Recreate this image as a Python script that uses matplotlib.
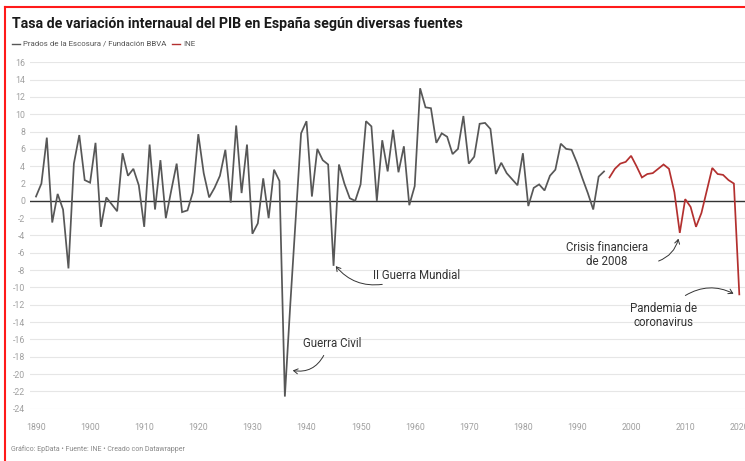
import matplotlib
matplotlib.use("Agg")
import matplotlib.pyplot as plt
from matplotlib.lines import Line2D

# ---------------- data ----------------
years_prados = list(range(1890, 1996))
gdp_prados = [
    0.5, 2.0, 7.3, -2.5, 0.8, -1.0, -7.8, 4.3, 7.6, 2.4,      # 1890-1899
    2.1, 6.7, -3.0, 0.4, -0.4, -1.2, 5.5, 2.9, 3.7, 1.8,      # 1900-1909
    -3.0, 6.5, -1.0, 4.7, -2.0, 1.2, 4.3, -1.3, -1.1, 1.0,    # 1910-1919
    7.7, 3.2, 0.4, 1.5, 2.9, 5.9, -0.2, 8.7, 0.9, 6.5,        # 1920-1929
    -3.8, -2.6, 2.6, -2.0, 3.6, 2.3, -22.6, -12.0, -2.1, 7.8, # 1930-1939
    9.2, 0.5, 6.0, 4.7, 4.2, -7.5, 4.2, 2.0, 0.3, 0.0,        # 1940-1949
    1.9, 9.2, 8.6, 0.0, 7.0, 3.4, 8.2, 3.3, 6.3, -0.5,        # 1950-1959
    1.7, 13.0, 10.8, 10.7, 6.7, 7.8, 7.4, 5.4, 6.0, 9.8,      # 1960-1969
    4.3, 5.1, 8.9, 9.0, 8.3, 3.1, 4.4, 3.2, 2.5, 1.8,         # 1970-1979
    5.5, -0.6, 1.5, 1.9, 1.2, 2.9, 3.6, 6.6, 6.0, 5.9,        # 1980-1989
    4.4, 2.6, 0.9, -1.0, 2.8, 3.4,                            # 1990-1995
]
years_ine = list(range(1996, 2021))
gdp_ine = [
    2.7, 3.7, 4.3, 4.5, 5.2, 4.0, 2.7, 3.1, 3.2, 3.7,
    4.2, 3.7, 1.0, -3.7, 0.2, -0.7, -3.0, -1.4, 1.2, 3.8,
    3.1, 3.0, 2.4, 2.0, -10.8,
]
y_ticks = list(range(-24, 17, 2))
x_ticks = list(range(1890, 2021, 10))

title = "Tasa de variación internaual del PIB en España según diversas fuentes"
legend_labels = ["Prados de la Escosura / Fundación BBVA", "INE"]
footer = "Gráfico: EpData • Fuente: INE • Creado con Datawrapper"

# ---------------- layout helpers ----------------
W, H = 745, 461
plt.rcParams['font.family'] = ['Roboto', 'DejaVu Sans']
fig = plt.figure(figsize=(W / 100, H / 100), dpi=100)
fig.patch.set_facecolor('white')


def fx(px):
    return px / W


def fy(py):
    return 1 - py / H


PX_PER_YEAR = 5.41
Y0_PX = 200.9
PX_PER_UNIT = 8.66


def dx(px):
    return 1890 + (px - 36) / PX_PER_YEAR


def dy(py):
    return (Y0_PX - py) / PX_PER_UNIT


ax = fig.add_axes([fx(30), fy(408.7), fx(745) - fx(30), fy(62.3) - fy(408.7)])
ax.set_xlim(dx(30), dx(745))
ax.set_ylim(-24, 16)
for s in ax.spines.values():
    s.set_visible(False)
ax.set_yticks(y_ticks)
ax.set_yticklabels([str(v) for v in y_ticks])
ax.set_xticks(x_ticks)
ax.set_xticklabels([str(v) for v in x_ticks])
ax.tick_params(axis='both', length=0, colors='#a0a0a0', labelsize=6.3)
ax.tick_params(axis='y', pad=3.5)
ax.tick_params(axis='x', pad=10)
ax.grid(axis='y', color='#e6e6e6', lw=0.8)
ax.grid(axis='x', visible=False)
ax.set_axisbelow(True)
ax.axhline(0, color='#333333', lw=1.0, zorder=2)

gray = '#575757'
red = '#b3302f'
ax.plot(years_prados, gdp_prados, color=gray, lw=1.25, clip_on=False, zorder=3,
        solid_joinstyle='miter')
ax.plot(years_ine, gdp_ine, color=red, lw=1.25, clip_on=False, zorder=3,
        solid_joinstyle='miter')

# ---------------- annotations ----------------
ann_color = '#333333'
ann_fs = 8.3
arrow_kw = dict(arrowstyle="->,head_length=0.3,head_width=0.18", color=ann_color, lw=0.7)

ax.text(dx(332), dy(344), "Guerra Civil", ha='center', va='center', fontsize=ann_fs, color=ann_color)
ax.annotate('', xy=(dx(290), dy(370)), xytext=(dx(325), dy(353)),
            arrowprops=dict(connectionstyle="arc3,rad=-0.4", **arrow_kw), annotation_clip=False)

ax.text(dx(373), dy(275.5), "II Guerra Mundial", ha='left', va='center', fontsize=ann_fs, color=ann_color)
ax.annotate('', xy=(dx(334), dy(264)), xytext=(dx(385), dy(284)),
            arrowprops=dict(connectionstyle="arc3,rad=-0.3", **arrow_kw), annotation_clip=False)

ax.text(dx(607), dy(248), "Crisis financiera", ha='center', va='center', fontsize=ann_fs, color=ann_color)
ax.text(dx(607), dy(262), "de 2008", ha='center', va='center', fontsize=ann_fs, color=ann_color)
ax.annotate('', xy=(dx(679), dy(236)), xytext=(dx(656), dy(262)),
            arrowprops=dict(connectionstyle="arc3,rad=0.3", **arrow_kw), annotation_clip=False)

ax.text(dx(664), dy(309), "Pandemia de", ha='center', va='center', fontsize=ann_fs, color=ann_color)
ax.text(dx(664), dy(323), "coronavirus", ha='center', va='center', fontsize=ann_fs, color=ann_color)
ax.annotate('', xy=(dx(736), dy(295)), xytext=(dx(683), dy(297)),
            arrowprops=dict(connectionstyle="arc3,rad=-0.3", **arrow_kw), annotation_clip=False)

# ---------------- header / footer ----------------
t_title = fig.text(fx(12), fy(28), title, ha='left', va='baseline', fontsize=10,
                   fontweight='bold', color='#1a1a1a')

fig.add_artist(Line2D([fx(12), fx(20)], [fy(44), fy(44)], color=gray, lw=1.0, transform=fig.transFigure))
t_leg1 = fig.text(fx(23), fy(44), legend_labels[0], ha='left', va='center', fontsize=5.5, color='#555555')
fig.add_artist(Line2D([fx(172), fx(180)], [fy(44), fy(44)], color=red, lw=1.0, transform=fig.transFigure))
t_leg2 = fig.text(fx(183), fy(44), legend_labels[1], ha='left', va='center', fontsize=5.5, color='#555555')

t_foot = fig.text(fx(11), fy(449), footer, ha='left', va='center', fontsize=5, color='#888888')

# red frame (top + left)
fig.add_artist(Line2D([fx(5), 1.0], [fy(7), fy(7)], color='#ff1a1a', lw=1.5, transform=fig.transFigure))
fig.add_artist(Line2D([fx(5), fx(5)], [fy(7), 0.0], color='#ff1a1a', lw=1.5, transform=fig.transFigure))

# fit text widths to the reference
fig.canvas.draw()
r = fig.canvas.get_renderer()


def fit(t, target_w):
    bb = t.get_window_extent(r)
    t.set_fontsize(t.get_fontsize() * target_w / bb.width)


fit(t_title, 451)
fit(t_leg1, 143)
fit(t_foot, 176)
t_leg2.set_fontsize(t_leg1.get_fontsize())

fig.savefig("out.png", dpi=100, facecolor='white')
